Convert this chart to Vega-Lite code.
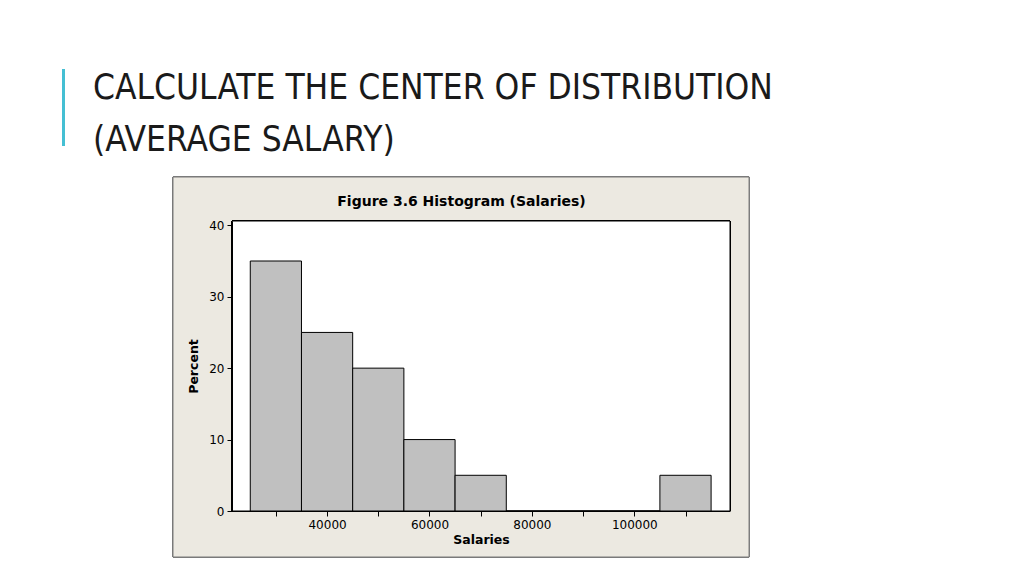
{
  "$schema": "https://vega.github.io/schema/vega-lite/v6.json",
  "width": 498,
  "height": 290,
  "autosize": {"type": "none"},
  "padding": {"left": 232, "top": 221, "right": 294, "bottom": 65},
  "background": "white",
  "title": {
    "text": ["CALCULATE THE CENTER OF DISTRIBUTION", "(AVERAGE SALARY)"],
    "anchor": "start",
    "frame": "group",
    "dx": -139,
    "dy": 110,
    "font": "Liberation Sans Narrow, DejaVu Sans Condensed, sans-serif",
    "fontSize": 35,
    "fontWeight": "normal",
    "color": "#1a1a1a",
    "lineHeight": 52,
    "offset": 20
  },
  "config": {
    "view": {"stroke": null},
    "axis": {
      "labelFont": "DejaVu Sans",
      "titleFont": "DejaVu Sans",
      "labelColor": "#000000",
      "titleColor": "#000000",
      "tickColor": "#000000",
      "domainColor": "#000000",
      "grid": false
    }
  },
  "datasets": {
    "bins": [
      {"bin_start": 25000, "bin_end": 35000, "percent": 35},
      {"bin_start": 35000, "bin_end": 45000, "percent": 25},
      {"bin_start": 45000, "bin_end": 55000, "percent": 20},
      {"bin_start": 55000, "bin_end": 65000, "percent": 10},
      {"bin_start": 65000, "bin_end": 75000, "percent": 5},
      {"bin_start": 75000, "bin_end": 85000, "percent": 0},
      {"bin_start": 85000, "bin_end": 95000, "percent": 0},
      {"bin_start": 95000, "bin_end": 105000, "percent": 0},
      {"bin_start": 105000, "bin_end": 115000, "percent": 5}
    ]
  },
  "data": {"name": "bins"},
  "resolve": {"axis": {"x": "independent", "y": "independent"}},
  "layer": [
    {
      "mark": {"type": "rule", "color": "#45BFD3", "strokeWidth": 2, "clip": false},
      "encoding": {
        "x": {"datum": -11480, "type": "quantitative", "scale": {"domain": [21430, 118690], "nice": false, "zero": false}, "axis": null},
        "y": {"datum": 61.88, "type": "quantitative", "axis": null},
        "y2": {"datum": 51.1}
      }
    },
    {
      "mark": {"type": "rect", "fill": "#ECE9E1", "stroke": "#7a7a7a", "strokeWidth": 1, "clip": false},
      "encoding": {
        "x": {"datum": 9907, "type": "quantitative", "axis": null},
        "x2": {"datum": 122407},
        "y": {"datum": 46.76, "type": "quantitative", "axis": null},
        "y2": {"datum": -6.44}
      }
    },
    {
      "mark": {"type": "rect", "fill": "white", "stroke": "#000000", "strokeWidth": 1},
      "encoding": {
        "x": {
          "datum": 21430, "type": "quantitative",
          "axis": {
            "orient": "top", "domain": false, "ticks": false, "labels": false,
            "zindex": 2,
            "title": "Figure 3.6 Histogram (Salaries)",
            "titleFontSize": 14, "titleFontWeight": "bold",
            "titleX": 229, "titleY": -16, "titleBaseline": "alphabetic", "titleAlign": "center"
          }
        },
        "x2": {"datum": 118690},
        "y": {"datum": 0, "type": "quantitative", "axis": null},
        "y2": {"datum": 40.6}
      }
    },
    {
      "mark": {"type": "rect", "fill": "#C0C0C0", "stroke": "#000000", "strokeWidth": 1},
      "encoding": {
        "x": {
          "field": "bin_start", "type": "quantitative",
          "axis": {
            "orient": "bottom",
            "zindex": 2,
            "values": [30000, 40000, 50000, 60000, 70000, 80000, 90000, 100000, 110000],
            "format": "d",
            "labelExpr": "datum.value % 20000 == 0 ? datum.label : ''",
            "title": "Salaries",
            "titleFontSize": 12.5, "titleFontWeight": "bold",
            "labelFontSize": 12,
            "tickSize": 5,
            "labelPadding": 3,
            "titlePadding": 3,
            "labelFlush": false
          }
        },
        "x2": {"field": "bin_end"},
        "y": {
          "field": "percent", "type": "quantitative",
          "scale": {"domain": [0, 40.6], "nice": false},
          "axis": {
            "orient": "left",
            "zindex": 2,
            "values": [0, 10, 20, 30, 40],
            "title": "Percent",
            "titleFontSize": 12.5, "titleFontWeight": "bold",
            "labelFontSize": 12,
            "tickSize": 5,
            "labelPadding": 3,
            "titlePadding": 8,
            "labelFlush": false
          }
        },
        "y2": {"datum": 0}
      }
    }
  ]
}
